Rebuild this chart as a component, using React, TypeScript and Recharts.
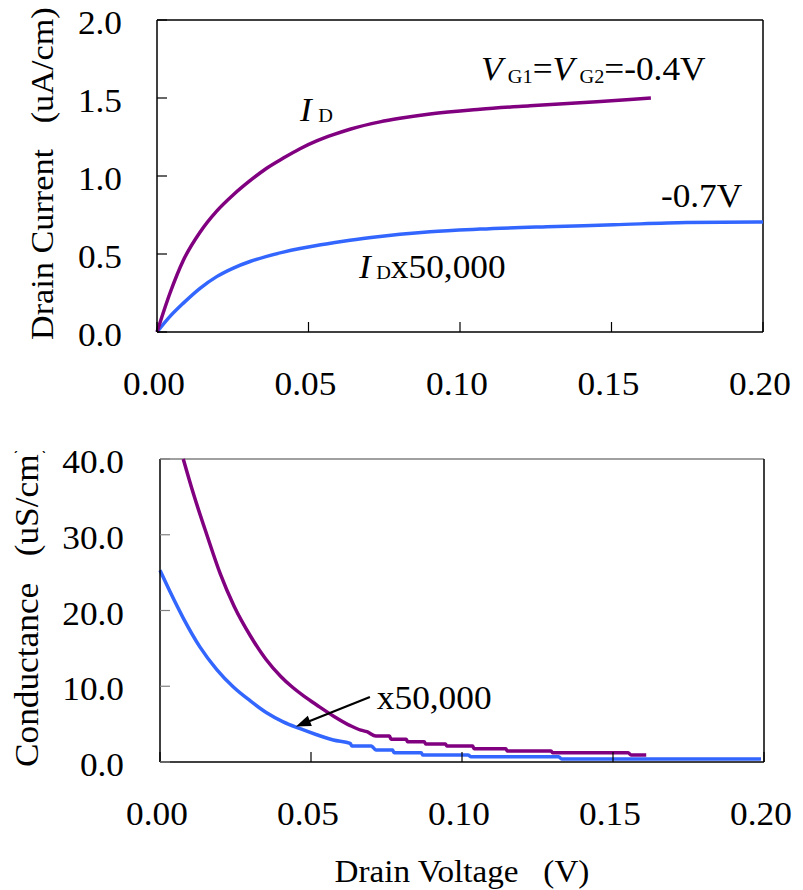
import React from 'react';
import { LineChart, Line, XAxis, YAxis, ReferenceLine, ReferenceDot } from 'recharts';

const FONT = '"Liberation Serif", "Times New Roman", Times, serif';
const PURPLE = '#800080';
const BLUE = '#3366FF';
const FS = 33;
const SUB = 19;
// Glyphs are drawn slightly wide
const SX = 1.07;

// Axis tick values
const voltageTicks = [0, 0.05, 0.1, 0.15, 0.2];
const currentTicks = [0, 0.5, 1.0, 1.5, 2.0];
const conductanceTicks = [0, 10, 20, 30, 40];

// Drain current (uA/cm) vs drain voltage (V), VG1 = VG2 = -0.4 V
const idHigh: [number, number][] = [
  [0, 0], [0.0043, 0.25], [0.0087, 0.46], [0.0142, 0.64], [0.0197, 0.775],
  [0.0252, 0.88], [0.0307, 0.97], [0.0362, 1.05], [0.0417, 1.115], [0.0472, 1.175],
  [0.0527, 1.225], [0.0582, 1.265], [0.0637, 1.3], [0.0736, 1.347], [0.0802, 1.37],
  [0.0901, 1.398], [0.1066, 1.428], [0.1231, 1.45], [0.1396, 1.47], [0.1561, 1.49],
  [0.163, 1.5],
];

// Drain current x50,000 (uA/cm), VG1 = VG2 = -0.7 V
const idLow: [number, number][] = [
  [0, 0], [0.0043, 0.1], [0.0087, 0.185], [0.0142, 0.28], [0.0197, 0.355],
  [0.0252, 0.41], [0.0307, 0.452], [0.0362, 0.485], [0.0417, 0.512], [0.0472, 0.535],
  [0.0527, 0.555], [0.0582, 0.572], [0.0637, 0.588], [0.0736, 0.612], [0.0802, 0.626],
  [0.0901, 0.643], [0.1066, 0.66], [0.1287, 0.675], [0.1507, 0.687], [0.1748, 0.702],
  [0.2, 0.705],
];

// Conductance (uS/cm), VG1 = VG2 = -0.4 V
const gHigh: [number, number][] = [
  [0.0077, 40], [0.011, 35.5], [0.0155, 30], [0.02, 24.8], [0.0245, 20.6],
  [0.03, 16.6], [0.035, 13.6], [0.04, 11.3], [0.0435, 10], [0.048, 8.6],
  [0.052, 7.5], [0.0575, 6.05], [0.063, 4.8], [0.0665, 4.2], [0.0685, 4.0],
  [0.0715, 3.43], [0.076, 3.43], [0.0765, 3.0], [0.0815, 3.0], [0.082, 2.68],
  [0.0875, 2.68], [0.088, 2.38], [0.0945, 2.38], [0.095, 2.11], [0.1035, 2.11],
  [0.104, 1.76], [0.1145, 1.76], [0.115, 1.45], [0.1295, 1.45], [0.13, 1.23],
  [0.155, 1.23], [0.156, 0.92], [0.161, 0.92],
];

// Conductance x50,000 (uS/cm), VG1 = VG2 = -0.7 V
const gLow: [number, number][] = [
  [0, 25.3], [0.0033, 22.5], [0.0077, 19.0], [0.0132, 15.2], [0.0188, 12.2],
  [0.0243, 9.9], [0.0298, 8.1], [0.0353, 6.5], [0.0408, 5.3], [0.0464, 4.4],
  [0.0519, 3.6], [0.0574, 2.9], [0.063, 2.46], [0.0635, 2.11], [0.07, 2.11],
  [0.0715, 1.58], [0.077, 1.58], [0.0775, 1.23], [0.0865, 1.23], [0.087, 0.92],
  [0.102, 0.92], [0.103, 0.7], [0.132, 0.7], [0.133, 0.4], [0.199, 0.4],
];

// Annotation anchors (data coordinates of the text baseline start)
const labelId: [number, number] = [0.0472, 1.35];
const labelVg: [number, number] = [0.1069, 1.615];
const labelLow: [number, number] = [0.1663, 0.801];
const labelIdScaled: [number, number] = [0.0667, 0.346];
const labelGScaled: [number, number] = [0.0718, 7.0];
const arrowFrom = { x: 0.0695, y: 8.58 };
const arrowTo = { x: 0.045, y: 4.69 };

const toPoints = (arr: [number, number][]) => arr.map(([v, y]) => ({ v, y }));

type STxtProps = {
  x: number;
  y: number;
  size?: number;
  anchor?: 'start' | 'middle' | 'end';
  rotate?: boolean;
  children?: React.ReactNode;
};

// Text drawn with a slight horizontal stretch
const STxt = ({ x, y, size = FS, anchor = 'start', rotate = false, children }: STxtProps) => (
  <text
    transform={`translate(${x},${y})${rotate ? ' rotate(-90)' : ''} scale(${SX},1)`}
    x={0}
    y={0}
    textAnchor={anchor}
    fontSize={size}
    fontFamily={FONT}
    fill="#000"
    style={{ whiteSpace: 'pre', fontFamily: FONT }}
  >
    {children}
  </text>
);

const XTick = (props: any) => {
  const { x, y, payload } = props;
  return (
    <STxt x={x - 3} y={y + 33} anchor="middle">
      {Number(payload.value).toFixed(2)}
    </STxt>
  );
};

const YTick = (props: any) => {
  const { x, y, payload } = props;
  return (
    <STxt x={x} y={y + 14} anchor="end">
      {Number(payload.value).toFixed(1)}
    </STxt>
  );
};

const VerticalTitle = (
  text: string,
  dx: number,
  dy: number,
  size: number,
  clipId?: string,
  clipTop?: number,
) => (props: any) => {
  const vb = props.viewBox || {};
  const x = vb.x + dx;
  const y = vb.y + vb.height + dy;
  if (clipId !== undefined && clipTop !== undefined) {
    return (
      <g>
        <defs>
          <clipPath id={clipId}>
            <rect x={0} y={vb.y + clipTop} width={vb.x + vb.width} height={vb.height + 200} />
          </clipPath>
        </defs>
        <g clipPath={`url(#${clipId})`}>
          <STxt x={x} y={y} size={size} rotate>{text}</STxt>
        </g>
      </g>
    );
  }
  return <STxt x={x} y={y} size={size} rotate>{text}</STxt>;
};

const HorizontalTitle = (text: string, dy: number, size: number) => (props: any) => {
  const vb = props.viewBox || {};
  return (
    <STxt x={vb.x + vb.width / 2} y={vb.y + dy} anchor="middle" size={size}>
      {text}
    </STxt>
  );
};

const IdLabel = (p: any) => (
  <STxt x={p.cx} y={p.cy}>
    <tspan fontStyle="italic">I</tspan>
    <tspan fontSize={SUB} dx={6} dy={1}>D</tspan>
  </STxt>
);

const VgLabel = (p: any) => (
  <STxt x={p.cx} y={p.cy}>
    <tspan fontStyle="italic">V</tspan>
    <tspan fontSize={SUB} dx={5} dy={3}>G1</tspan>
    <tspan dy={-3}>=</tspan>
    <tspan fontStyle="italic">V</tspan>
    <tspan fontSize={SUB} dx={5} dy={3}>G2</tspan>
    <tspan dy={-3}>=-0.4V</tspan>
  </STxt>
);

const LowLabel = (p: any) => <STxt x={p.cx} y={p.cy}>-0.7V</STxt>;

const IdScaledLabel = (p: any) => (
  <STxt x={p.cx} y={p.cy}>
    <tspan fontStyle="italic">I</tspan>
    <tspan fontSize={SUB} dx={5} dy={1}>D</tspan>
    <tspan dy={-1}>x50,000</tspan>
  </STxt>
);

const GScaledLabel = (p: any) => <STxt x={p.cx} y={p.cy}>x50,000</STxt>;

const Arrow = (p: any) => {
  const { x1, y1, x2, y2 } = p;
  const dx = x2 - x1;
  const dy = y2 - y1;
  const len = Math.sqrt(dx * dx + dy * dy) || 1;
  const ux = dx / len;
  const uy = dy / len;
  const head = 15;
  const half = 5.5;
  const bx = x2 - ux * head;
  const by = y2 - uy * head;
  const pts = `${x2},${y2} ${bx - uy * half},${by + ux * half} ${bx + uy * half},${by - ux * half}`;
  return (
    <g>
      <line x1={x1} y1={y1} x2={bx + ux * 2} y2={by + uy * 2} stroke="#000" strokeWidth={2.2} />
      <polygon points={pts} fill="#000" />
    </g>
  );
};

const axisLine = { stroke: '#000', strokeWidth: 1.5 };

export default function App() {
  return (
    <div style={{ position: 'absolute', left: 0, top: 0, width: 803, height: 890, background: '#fff' }}>
      <LineChart width={803} height={440} margin={{ top: 20, right: 40, bottom: 8, left: 57 }}>
        <XAxis
          dataKey="v"
          type="number"
          domain={[0, 0.2]}
          ticks={voltageTicks}
          interval={0}
          height={100}
          tickSize={-10}
          tickMargin={40}
          tick={<XTick />}
          axisLine={axisLine}
          tickLine={{ stroke: '#000', strokeWidth: 1.2 }}
        />
        <YAxis
          type="number"
          domain={[0, 2]}
          ticks={currentTicks}
          interval={0}
          width={100}
          tickSize={-10}
          tickMargin={45}
          tick={<YTick />}
          axisLine={axisLine}
          tickLine={{ stroke: '#000', strokeWidth: 1.2 }}
          label={{ content: VerticalTitle('Drain Current   (uA/cm)', -4, 8, 32) }}
        />
        <ReferenceLine y={2} stroke="#000" strokeWidth={1.5} />
        <ReferenceLine x={0.2} stroke="#000" strokeWidth={1.5} />
        <Line
          data={toPoints(idLow)}
          dataKey="y"
          type="monotone"
          stroke={BLUE}
          strokeWidth={3.5}
          dot={false}
          isAnimationActive={false}
        />
        <Line
          data={toPoints(idHigh)}
          dataKey="y"
          type="monotone"
          stroke={PURPLE}
          strokeWidth={3.5}
          dot={false}
          isAnimationActive={false}
        />
        <ReferenceDot x={labelId[0]} y={labelId[1]} r={0} shape={IdLabel} />
        <ReferenceDot x={labelVg[0]} y={labelVg[1]} r={0} shape={VgLabel} />
        <ReferenceDot x={labelLow[0]} y={labelLow[1]} r={0} shape={LowLabel} />
        <ReferenceDot x={labelIdScaled[0]} y={labelIdScaled[1]} r={0} shape={IdScaledLabel} />
      </LineChart>
      <LineChart width={803} height={450} margin={{ top: 19, right: 39, bottom: 28, left: 60 }}>
        <XAxis
          dataKey="v"
          type="number"
          domain={[0, 0.2]}
          ticks={voltageTicks}
          interval={0}
          height={100}
          tickSize={-10}
          tickMargin={40}
          tick={<XTick />}
          axisLine={axisLine}
          tickLine={{ stroke: '#000', strokeWidth: 1.2 }}
          label={{ content: HorizontalTitle('Drain Voltage   (V)', 120, 31) }}
        />
        <YAxis
          type="number"
          domain={[0, 40]}
          ticks={conductanceTicks}
          interval={0}
          width={100}
          tickSize={-10}
          tickMargin={46}
          tick={<YTick />}
          axisLine={axisLine}
          tickLine={{ stroke: '#808080', strokeWidth: 1.2 }}
          label={{ content: VerticalTitle('Conductance   (uS/cm)', -22.5, 5, 33, 'condTitleClip', -8) }}
        />
        <ReferenceLine y={40} stroke="#808080" strokeWidth={1.5} />
        <ReferenceLine x={0.2} stroke="#000" strokeWidth={1.5} />
        <Line
          data={toPoints(gLow)}
          dataKey="y"
          type="monotone"
          stroke={BLUE}
          strokeWidth={3.5}
          dot={false}
          isAnimationActive={false}
        />
        <Line
          data={toPoints(gHigh)}
          dataKey="y"
          type="monotone"
          stroke={PURPLE}
          strokeWidth={3.5}
          dot={false}
          isAnimationActive={false}
        />
        <ReferenceLine segment={[arrowFrom, arrowTo]} shape={Arrow} />
        <ReferenceDot x={labelGScaled[0]} y={labelGScaled[1]} r={0} shape={GScaledLabel} />
      </LineChart>
    </div>
  );
}
